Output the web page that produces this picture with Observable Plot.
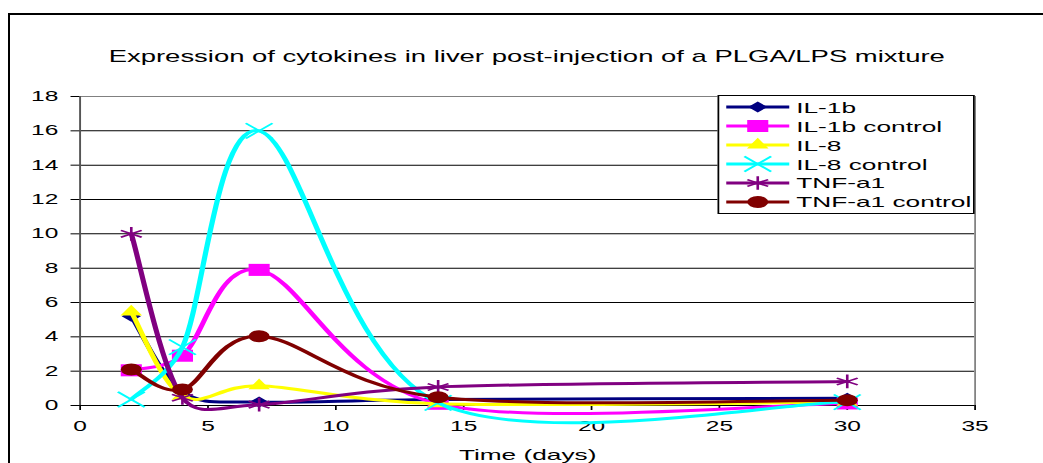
<!DOCTYPE html>
<html>
<head>
<meta charset="utf-8">
<script src="https://cdn.jsdelivr.net/npm/d3@7"></script>
<script src="https://cdn.jsdelivr.net/npm/@observablehq/plot@0.6"></script>
<style>
  html, body { margin: 0; padding: 0; background: #fff; }
  body { width: 1043px; height: 463px; overflow: hidden; position: relative;
         font-family: "Liberation Sans", Arial, sans-serif; color: #000; }
  #wrap { position: absolute; left: 0; top: 0; width: 596px; height: 463px;
          transform: scaleX(1.75); transform-origin: 0 0; }
  #title { width: 596px; height: 76px; box-sizing: border-box; padding: 48px 39.3px 0 45.3px;
           line-height: 18px; font-size: 15.7px; text-align: center; white-space: nowrap; }
  #legend { position: absolute; left: 410px; top: 95px; width: 147px; height: 119px;
            box-sizing: border-box; border: 1px solid #000; background: #fff; padding-top: 2px; }
  .row { display: flex; align-items: center; height: 18.86px; font-size: 15px; white-space: nowrap; }
  .row svg { margin-left: 4.4px; margin-right: 3.6px; overflow: visible; }
  #border { position: absolute; left: 8px; top: 13px; width: 1200px; height: 600px;
            border-left: 2px solid #000; border-top: 2px solid #000; pointer-events: none; }
</style>
</head>
<body>
<div id="wrap">
  <div id="title"></div>
  <div id="chart"></div>
  <div id="legend"></div>
</div>
<div id="border"></div>
<script>
// ---- data ----
const days = [2, 4, 7, 14, 30];
const il1b         = [5.2, 0.8, 0.2, 0.35, 0.42];
const il1bControl  = [2.05, 2.9, 7.9, 0.1, 0.12];
const il8          = [5.45, 0.55, 1.15, 0.1, 0.2];
const il8Control   = [0.35, 3.4, 16.0, 0.15, 0.2];
const tnfa1        = [10.0, 0.45, 0.05, 1.08, 1.4];
const tnfa1Control = [2.1, 0.93, 4.03, 0.48, 0.3];
const seriesNames  = ["IL-1b", "IL-1b control", "IL-8", "IL-8 control", "TNF-a1", "TNF-a1 control"];
const seriesValues = [il1b, il1bControl, il8, il8Control, tnfa1, tnfa1Control];
const xTicks = [0, 5, 10, 15, 20, 25, 30, 35];
const yTicks = [0, 2, 4, 6, 8, 10, 12, 14, 16, 18];
const gridTicks = [2, 4, 6, 8, 10, 12, 14, 16];
const titleText = "Expression of cytokines in liver post-injection of a PLGA/LPS mixture";
const xLabel = "Time (days)";

// ---- styles ----
const seriesColors = ["#000080", "#FF00FF", "#FFFF00", "#00FFFF", "#800080", "#800000"];
const diamondSym = { draw(ctx, size) { const r = Math.sqrt(size / 2);
  ctx.moveTo(0, -r); ctx.lineTo(r, 0); ctx.lineTo(0, r); ctx.lineTo(-r, 0); ctx.closePath(); } };
const markers = [
  { symbol: diamondSym, d3sym: diamondSym, r: 4.4, filled: true },
  { symbol: "square", d3sym: d3.symbolSquare, r: 6.8, filled: true },
  { symbol: "triangle", d3sym: d3.symbolTriangle, r: 4.6, filled: true },
  { symbol: "times", d3sym: d3.symbolTimes, r: 7, filled: false },
  { symbol: "asterisk", d3sym: d3.symbolAsterisk, r: 6.5, filled: false },
  { symbol: "circle", d3sym: d3.symbolCircle, r: 6, filled: true }
];
const lineWidth = 3;

// Spreadsheet-style smoothed line: Catmull-Rom (1/6) handles, each capped at half its segment.
function smoothCurve(context) {
  let pts = [];
  return {
    areaStart() {}, areaEnd() {},
    lineStart() { pts = []; },
    point(x, y) { pts.push([+x, +y]); },
    lineEnd() {
      const p = pts, n = p.length;
      if (!n) return;
      context.moveTo(p[0][0], p[0][1]);
      const dist = (a, b) => Math.hypot(b[0] - a[0], b[1] - a[1]);
      for (let i = 0; i < n - 1; i++) {
        const p0 = p[i - 1] || p[i], p1 = p[i], p2 = p[i + 1], p3 = p[i + 2] || p[i + 1];
        const d02 = dist(p0, p2), d12 = dist(p1, p2), d13 = dist(p1, p3);
        const f1 = d02 / 6 < d12 / 2 ? 1 / 6 : d12 / (2 * d02);
        const f2 = d13 / 6 < d12 / 2 ? 1 / 6 : d12 / (2 * d13);
        context.bezierCurveTo(
          p1[0] + f1 * (p2[0] - p0[0]), p1[1] + f1 * (p2[1] - p0[1]),
          p2[0] - f2 * (p3[0] - p1[0]), p2[1] - f2 * (p3[1] - p1[1]),
          p2[0], p2[1]);
      }
    }
  };
}

document.getElementById("title").textContent = titleText;

const rows = seriesNames.flatMap((name, i) =>
  days.map((d, j) => ({ series: name, day: d, value: seriesValues[i][j] })));

const marks = [
  Plot.gridY(gridTicks, { stroke: "#000", strokeOpacity: 1, strokeWidth: 1 }),
  Plot.frame({ stroke: "#808080" }),
  Plot.ruleY([0], { stroke: "#000" }),
  Plot.ruleX([0], { stroke: "#555" }),
  Plot.axisX({ ticks: xTicks, tickSize: 5, tickPadding: 11, tickFormat: d => String(d), label: null, fontSize: 14 }),
  Plot.axisY({ ticks: yTicks, tickSize: 5, tickPadding: 7.5, tickFormat: d => String(d), label: null, fontSize: 14 }),
  Plot.text([xLabel], { text: d => d, frameAnchor: "bottom", dy: 54, lineAnchor: "bottom", fontSize: 15 })
];
seriesNames.forEach((name, i) => {
  const data = rows.filter(r => r.series === name);
  const m = markers[i];
  marks.push(Plot.line(data, { x: "day", y: "value", stroke: seriesColors[i], strokeWidth: lineWidth,
    curve: smoothCurve, strokeLinejoin: "round", strokeLinecap: "round" }));
  marks.push(Plot.dot(data, { x: "day", y: "value", symbol: m.symbol, r: m.r,
    fill: m.filled ? seriesColors[i] : "none",
    stroke: m.filled ? "none" : seriesColors[i], strokeWidth: m.filled ? 0 : 1.5 }));
});

const chart = Plot.plot({
  width: 596, height: 387,
  marginTop: 20, marginBottom: 58, marginLeft: 45.3, marginRight: 39.3,
  x: { domain: [0, 35] },
  y: { domain: [0, 18] },
  style: { fontFamily: "'Liberation Sans', Arial, sans-serif", fontSize: "14px", color: "#000",
           background: "transparent", overflow: "visible" },
  marks
});
document.getElementById("chart").appendChild(chart);

// ---- legend ----
const legend = d3.select("#legend");
seriesNames.forEach((name, i) => {
  const m = markers[i];
  const row = legend.append("div").attr("class", "row");
  const svg = row.append("svg").attr("width", 36).attr("height", 18);
  svg.append("line").attr("x1", 0).attr("x2", 36).attr("y1", 9).attr("y2", 9)
    .attr("stroke", seriesColors[i]).attr("stroke-width", lineWidth);
  svg.append("path").attr("transform", "translate(18,9)")
    .attr("d", d3.symbol(m.d3sym, m.r * m.r * Math.PI)())
    .attr("fill", m.filled ? seriesColors[i] : "none")
    .attr("stroke", m.filled ? "none" : seriesColors[i])
    .attr("stroke-width", m.filled ? 0 : 1.5);
  row.append("span").text(name);
});
</script>
</body>
</html>
